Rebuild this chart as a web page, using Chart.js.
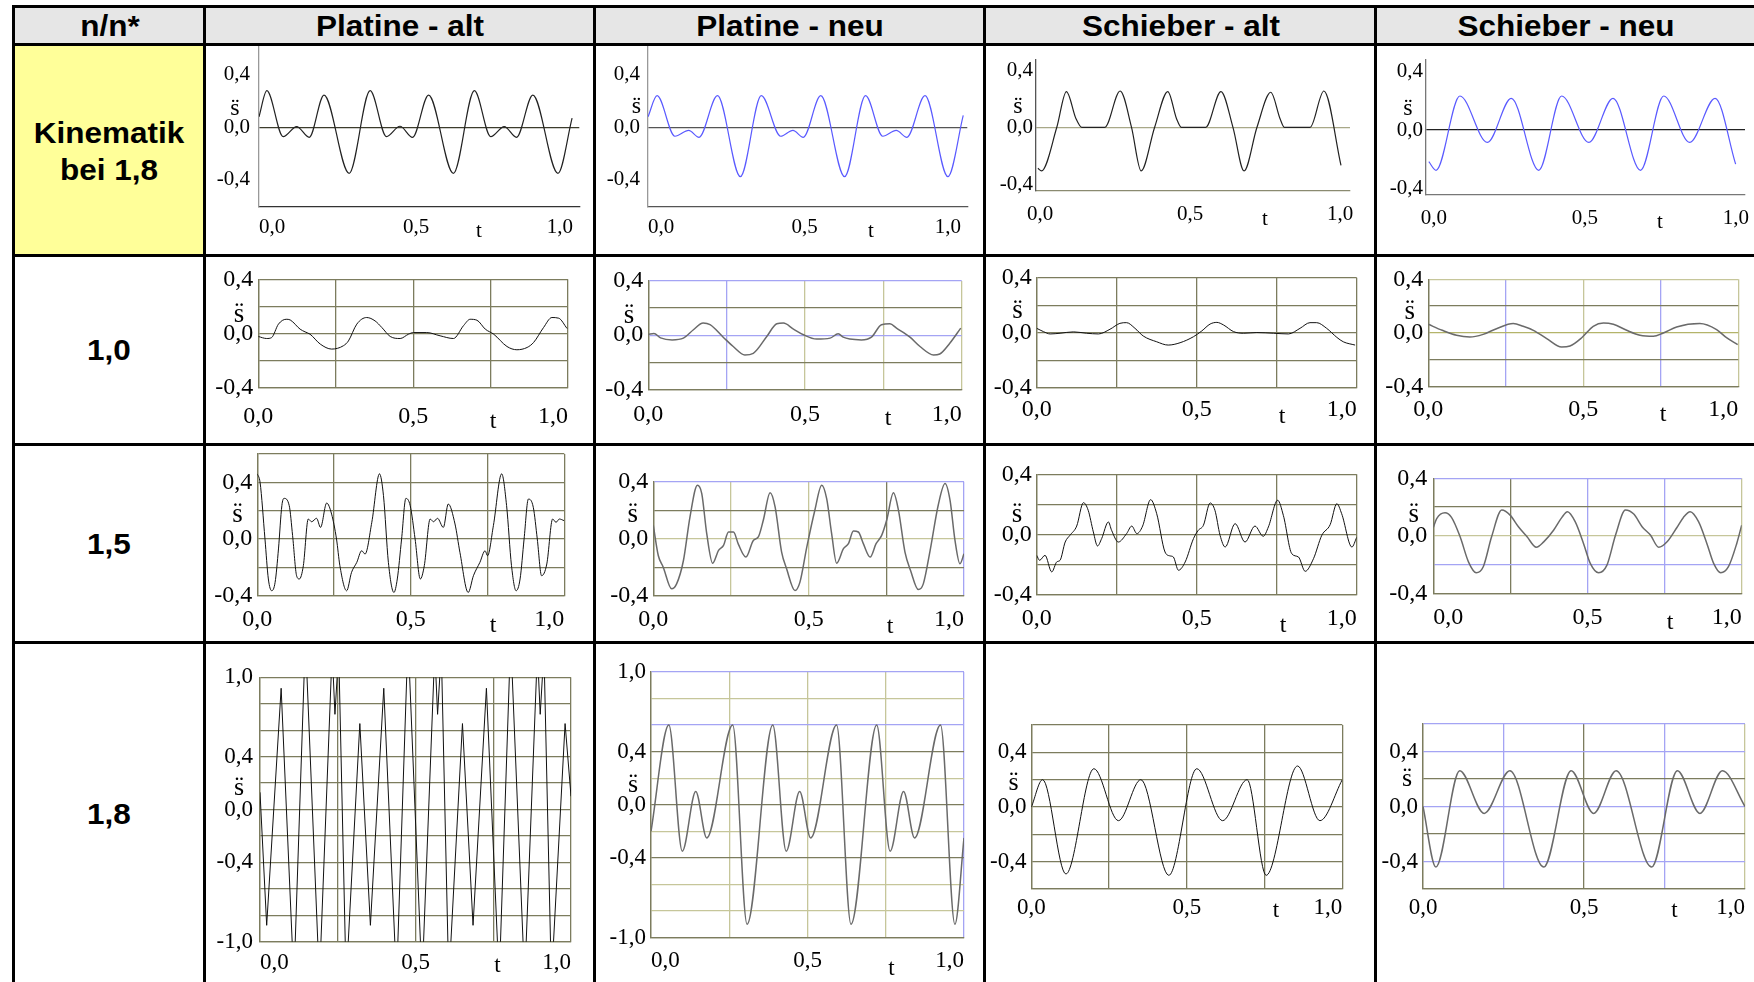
<!DOCTYPE html>
<html>
<head>
<meta charset="utf-8">
<script src="https://cdn.jsdelivr.net/npm/chart.js@4.4.0/dist/chart.umd.min.js"></script>
<style>
  html, body { margin: 0; padding: 0; background: #fff; }
  #page { position: relative; width: 1754px; height: 982px; overflow: hidden; font-family: "Liberation Sans", Arial, sans-serif; }
  .box { position: absolute; }
  .rule { position: absolute; background: #000; }
  .lbl { position: absolute; font-weight: bold; font-size: 30px; color: #000; white-space: nowrap; transform: translate(-50%, -50%) scaleX(1.05); }
  canvas { position: absolute; }
</style>
</head>
<body>
<div id="page"></div>
<script>
// ---- table text ----
const headers = ['n/n*', 'Platine - alt', 'Platine - neu', 'Schieber - alt', 'Schieber - neu'];
const rowLabels = [['Kinematik', 'bei 1,8'], ['1,0'], ['1,5'], ['1,8']];

// ---- tick values ----
const xTickVals = [0, 0.5, 1];
const xGridVals = [0, 0.25, 0.5, 0.75, 1];
const yTickSmall = [-0.4, 0, 0.4];
const yGrid04 = [-0.4, -0.2, 0, 0.2, 0.4];
const yGrid06 = [-0.4, -0.2, 0, 0.2, 0.4, 0.6];
const yGridPm06 = [-0.6, -0.4, -0.2, 0, 0.2, 0.4, 0.6];
const yGrid10 = [-1, -0.8, -0.6, -0.4, -0.2, 0, 0.2, 0.4, 0.6, 0.8, 1];
const yTickBig = [-1, -0.4, 0, 0.4, 1];

// ---- Kinematik bei 1,8 ----
const kinPAltT = [0, 0.025, 0.077, 0.12, 0.16, 0.207, 0.287, 0.354, 0.406, 0.449, 0.489, 0.54, 0.619, 0.686, 0.738, 0.781, 0.82, 0.872, 0.952, 0.997];
const kinPAltS = [0.08, 0.278, -0.071, 0.005, -0.076, 0.245, -0.35, 0.278, -0.071, 0.008, -0.076, 0.245, -0.35, 0.278, -0.071, 0.005, -0.076, 0.245, -0.35, 0.07];
const kinPNeuT = [0, 0.029, 0.086, 0.13, 0.163, 0.222, 0.295, 0.362, 0.424, 0.463, 0.496, 0.552, 0.628, 0.695, 0.75, 0.793, 0.827, 0.885, 0.958, 1.007];
const kinPNeuS = [0.08, 0.24, -0.068, -0.023, -0.076, 0.24, -0.375, 0.24, -0.068, -0.023, -0.076, 0.24, -0.375, 0.24, -0.068, -0.023, -0.076, 0.24, -0.375, 0.09];
const kinSAltT = [-0.007, 0.005, 0.056, 0.088, 0.12, 0.139, 0.18, 0.216, 0.267, 0.305, 0.337, 0.382, 0.426, 0.455, 0.471, 0.51, 0.552, 0.603, 0.643, 0.68, 0.723, 0.769, 0.8, 0.814, 0.86, 0.9, 0.946, 1.003];
const kinSAltS = [-0.287, -0.305, 0, 0.25, 0.06, 0, 0, 0, 0.254, 0, -0.305, 0, 0.25, 0.06, 0, 0, 0, 0.25, 0, -0.305, 0, 0.245, 0.06, 0, 0, 0, 0.254, -0.266];
const kinSNeuT = [-0.017, 0.007, 0.086, 0.177, 0.256, 0.347, 0.423, 0.513, 0.593, 0.684, 0.761, 0.847, 0.931, 0.999];
const kinSNeuS = [-0.217, -0.276, 0.233, -0.085, 0.217, -0.276, 0.233, -0.085, 0.217, -0.276, 0.233, -0.085, 0.217, -0.234];

// ---- n/n* = 1,0 ----
const n10PAltT = [0, 0.027, 0.043, 0.065, 0.09, 0.103, 0.135, 0.151, 0.167, 0.2, 0.237, 0.275, 0.291, 0.318, 0.35, 0.377, 0.399, 0.426, 0.458, 0.485, 0.501, 0.544, 0.587, 0.63, 0.663, 0.684, 0.706, 0.733, 0.76, 0.803, 0.835, 0.868, 0.889, 0.921, 0.948, 0.97, 0.997];
const n10PAltS = [-0.022, -0.037, -0.03, 0.069, 0.105, 0.1, 0.032, 0.012, -0.005, -0.078, -0.115, -0.09, -0.055, 0.069, 0.118, 0.093, 0.044, -0.022, -0.037, -0.005, 0.007, 0.007, -0.017, -0.037, 0.059, 0.105, 0.098, 0.032, -0.005, -0.096, -0.12, -0.103, -0.066, 0.044, 0.118, 0.113, 0.037];
const n10PNeuT = [0, 0.018, 0.039, 0.076, 0.112, 0.144, 0.175, 0.197, 0.239, 0.271, 0.308, 0.335, 0.378, 0.41, 0.431, 0.463, 0.495, 0.537, 0.58, 0.606, 0.622, 0.643, 0.68, 0.712, 0.744, 0.771, 0.792, 0.835, 0.867, 0.91, 0.93, 0.962, 0.997];
const n10PNeuS = [0.005, 0.012, -0.02, -0.035, -0.022, 0.04, 0.089, 0.077, -0.015, -0.084, -0.146, -0.134, -0.01, 0.084, 0.089, 0.045, 0.003, -0.029, -0.022, 0.01, -0.015, -0.029, -0.035, -0.015, 0.077, 0.084, 0.052, -0.015, -0.084, -0.146, -0.139, -0.06, 0.052];
const n10SAltT = [0, 0.021, 0.042, 0.073, 0.115, 0.156, 0.193, 0.229, 0.26, 0.281, 0.307, 0.333, 0.375, 0.411, 0.448, 0.49, 0.516, 0.542, 0.563, 0.584, 0.615, 0.646, 0.688, 0.74, 0.787, 0.823, 0.854, 0.875, 0.906, 0.938, 0.958, 0.995];
const n10SAltS = [0.032, 0.008, -0.009, -0.004, 0.006, -0.004, -0.009, 0.025, 0.068, 0.073, 0.032, -0.024, -0.066, -0.09, -0.073, -0.029, 0.013, 0.063, 0.075, 0.056, 0.008, -0.004, 0.001, -0.004, -0.009, 0.032, 0.073, 0.073, 0.032, -0.034, -0.066, -0.09];
const n10SNeuT = [0, 0.045, 0.091, 0.134, 0.177, 0.22, 0.274, 0.306, 0.339, 0.382, 0.43, 0.457, 0.495, 0.532, 0.565, 0.597, 0.64, 0.683, 0.726, 0.758, 0.801, 0.876, 0.93, 0.962, 0.998];
const n10SNeuS = [0.065, 0.02, -0.017, -0.03, -0.01, 0.032, 0.07, 0.05, 0.02, -0.042, -0.105, -0.097, -0.035, 0.05, 0.075, 0.065, 0.02, -0.017, -0.025, 0, 0.045, 0.07, 0.025, -0.035, -0.087];

// ---- n/n* = 1,5 ----
const n15PAltT = [0, 0.009, 0.025, 0.036, 0.047, 0.058, 0.069, 0.08, 0.087, 0.104, 0.115, 0.128, 0.137, 0.15, 0.166, 0.177, 0.193, 0.206, 0.226, 0.242, 0.258, 0.269, 0.291, 0.307, 0.324, 0.34, 0.351, 0.373, 0.398, 0.411, 0.427, 0.445, 0.456, 0.47, 0.484, 0.498, 0.514, 0.531, 0.544, 0.563, 0.574, 0.587, 0.606, 0.622, 0.644, 0.66, 0.687, 0.704, 0.725, 0.742, 0.75, 0.769, 0.796, 0.812, 0.828, 0.843, 0.856, 0.869, 0.883, 0.899, 0.912, 0.926, 0.943, 0.962, 0.973, 0.984, 0.999];
const n15PAltS = [0.46, 0.4, 0, -0.282, -0.365, -0.306, -0.07, 0.236, 0.287, 0.236, 0.024, -0.259, -0.282, -0.188, 0.141, 0.122, 0.146, 0.082, 0.254, 0.176, 0, -0.188, -0.365, -0.235, -0.165, -0.083, -0.106, 0.118, 0.46, 0.306, -0.165, -0.377, -0.282, 0, 0.287, 0.236, 0, -0.282, -0.188, 0.141, 0.122, 0.146, 0.082, 0.247, 0.106, -0.094, -0.377, -0.259, -0.165, -0.083, -0.118, 0.094, 0.46, 0.236, -0.188, -0.365, -0.282, 0, 0.282, 0.224, 0, -0.259, -0.176, 0.141, 0.118, 0.141, 0.13];
const n15PNeuT = [0, 0.016, 0.032, 0.059, 0.075, 0.097, 0.118, 0.142, 0.156, 0.172, 0.191, 0.21, 0.226, 0.242, 0.258, 0.274, 0.298, 0.322, 0.338, 0.354, 0.376, 0.392, 0.413, 0.429, 0.456, 0.472, 0.494, 0.52, 0.542, 0.558, 0.574, 0.59, 0.612, 0.628, 0.644, 0.66, 0.676, 0.698, 0.717, 0.735, 0.751, 0.773, 0.789, 0.81, 0.828, 0.853, 0.869, 0.891, 0.917, 0.939, 0.955, 0.971, 0.987, 1.0];
const n15PNeuS = [0.093, -0.118, -0.2, -0.352, -0.317, -0.153, 0.152, 0.375, 0.317, 0.035, -0.172, -0.082, -0.047, 0.047, 0.047, -0.04, -0.129, -0.012, 0.012, 0.129, 0.322, 0.223, -0.094, -0.211, -0.364, -0.305, -0.059, 0.2, 0.375, 0.281, 0.035, -0.172, -0.07, -0.035, 0.054, 0.047, -0.035, -0.129, -0.035, 0.023, 0.129, 0.322, 0.2, -0.094, -0.223, -0.357, -0.317, -0.082, 0.235, 0.387, 0.27, -0.012, -0.176, -0.106];
const n15SAltT = [0, 0.009, 0.026, 0.047, 0.063, 0.073, 0.089, 0.104, 0.125, 0.146, 0.161, 0.177, 0.19, 0.203, 0.224, 0.234, 0.255, 0.281, 0.297, 0.313, 0.331, 0.356, 0.375, 0.401, 0.417, 0.427, 0.443, 0.464, 0.49, 0.505, 0.521, 0.542, 0.557, 0.573, 0.589, 0.62, 0.651, 0.682, 0.708, 0.724, 0.753, 0.771, 0.797, 0.818, 0.839, 0.865, 0.891, 0.917, 0.938, 0.953, 0.985, 1.0];
const n15SAltS = [-0.137, -0.17, -0.137, -0.247, -0.18, -0.17, -0.049, -0.004, 0.057, 0.212, 0.161, 0.018, -0.075, -0.026, 0.084, 0.029, -0.049, 0.007, 0.057, 0.007, 0.057, 0.232, 0.139, -0.115, -0.141, -0.148, -0.236, -0.181, -0.026, 0.029, 0.062, 0.21, 0.161, -0.004, -0.082, 0.073, -0.049, 0.057, -0.011, 0.051, 0.228, 0.126, -0.126, -0.148, -0.243, -0.159, -0.004, 0.066, 0.205, 0.139, -0.082, -0.018];
const n15SNeuT = [0, 0.011, 0.038, 0.059, 0.087, 0.114, 0.139, 0.162, 0.189, 0.222, 0.249, 0.276, 0.304, 0.334, 0.358, 0.39, 0.417, 0.435, 0.46, 0.487, 0.509, 0.536, 0.563, 0.591, 0.623, 0.65, 0.677, 0.704, 0.731, 0.758, 0.79, 0.811, 0.833, 0.86, 0.887, 0.909, 0.932, 0.957, 0.984, 1.0];
const n15SNeuS = [0.058, 0.12, 0.16, 0.128, -0.007, -0.181, -0.257, -0.215, -0.007, 0.179, 0.144, 0.063, -0.007, -0.08, -0.042, 0.039, 0.128, 0.167, 0.098, -0.053, -0.192, -0.257, -0.204, 0.005, 0.179, 0.151, 0.063, 0.005, -0.08, -0.042, 0.058, 0.128, 0.167, 0.098, -0.053, -0.192, -0.257, -0.215, -0.053, 0.074];

// ---- n/n* = 1,8 ----
const n18PAltT = [0, 0.0215, 0.068, 0.109, 0.146, 0.191, 0.232, 0.241, 0.253, 0.277, 0.321, 0.355, 0.398, 0.439, 0.476, 0.521, 0.562, 0.571, 0.583, 0.607, 0.651, 0.685, 0.728, 0.769, 0.806, 0.851, 0.892, 0.901, 0.913, 0.937, 0.981, 1.0];
const n18PAltS = [0.13, -0.876, 0.917, -1.3, 1.3, -1.3, 1.2, 0.72, 1.2, -1.3, 0.65, -0.876, 0.917, -1.3, 1.3, -1.3, 1.2, 0.72, 1.2, -1.3, 0.65, -0.876, 0.917, -1.3, 1.3, -1.3, 1.2, 0.72, 1.2, -1.3, 0.65, 0.1];
const n18PNeuT = [0, 0.057, 0.1, 0.143, 0.178, 0.261, 0.307, 0.389, 0.432, 0.475, 0.51, 0.593, 0.639, 0.721, 0.764, 0.807, 0.842, 0.925, 0.971, 1.0];
const n18PNeuS = [-0.2, 0.6, -0.35, 0.1, -0.25, 0.6, -0.9, 0.6, -0.35, 0.1, -0.25, 0.6, -0.9, 0.6, -0.35, 0.1, -0.25, 0.6, -0.9, -0.25];
const n18SAltT = [0, 0.036, 0.111, 0.201, 0.28, 0.352, 0.442, 0.532, 0.615, 0.694, 0.755, 0.856, 0.928, 1.0];
const n18SAltS = [0.0, 0.2, -0.49, 0.28, -0.1, 0.2, -0.5, 0.28, -0.1, 0.2, -0.5, 0.3, -0.1, 0.2];
const n18SNeuT = [0, 0.04, 0.114, 0.19, 0.27, 0.375, 0.46, 0.53, 0.6, 0.71, 0.79, 0.86, 0.93, 1.0];
const n18SNeuS = [0.0, -0.44, 0.26, -0.05, 0.26, -0.44, 0.26, -0.05, 0.26, -0.44, 0.26, -0.05, 0.26, 0.0];

// ---- layout ----
const COLS = [13, 204, 594, 984, 1375, 1754];
const ROWS = [6, 44, 255, 444, 642, 982];
const page = document.getElementById('page');

const el = (cls, css, txt) => {
  const d = document.createElement('div');
  d.className = cls;
  Object.assign(d.style, css);
  if (txt) d.textContent = txt;
  page.appendChild(d);
  return d;
};

el('box', {left: '13px', top: '6px', width: '1741px', height: '38px', background: '#e6e6e6'});
el('box', {left: '13px', top: '44px', width: '191px', height: '211px', background: '#ffff99'});
ROWS.slice(0, 5).forEach(y => el('rule', {left: '12px', top: (y - 1) + 'px', width: '1742px', height: '3px'}));
COLS.slice(0, 5).forEach(x => el('rule', {left: (x - 1) + 'px', top: '5px', width: '3px', height: '977px'}));

headers.forEach((h, i) => el('lbl', {left: ((COLS[i] + COLS[i + 1]) / 2 + 1) + 'px', top: '26px'}, h));
const rowLabelY = [[133, 170], [350], [544], [814]];
rowLabels.forEach((lines, r) => lines.forEach((t, k) => el('lbl', {left: '109px', top: rowLabelY[r][k] + 'px'}, t)));

// ---- charts ----
const serif = '"Liberation Serif", "Times New Roman", serif';
const fmt = v => (Math.round(v * 10) / 10).toFixed(1).replace('.', ',');
const has = (list, v) => list.some(l => Math.abs(l - v) < 1e-6);
const NONE = 'rgba(0,0,0,0)';
const OL = '#7c7c5e', OLL = '#c6c69a', BL = '#a4a4f4';

const marks = {
  id: 'marks',
  beforeDraw(chart, args, o) {
    // first and last x labels sit as in the scans (left / centred / flush right)
    const shown = chart.scales.x.getLabelItems().filter(it => it.label !== '');
    shown[0].options.textAlign = o.first;
    shown[shown.length - 1].options.textAlign = o.last;
  },
  afterDraw(chart, args, o) {
    const c = chart.ctx;
    c.save();
    c.fillStyle = '#000';
    c.textAlign = 'center';
    c.font = o.sSize + 'px ' + serif;
    c.textBaseline = 'alphabetic';
    c.fillText('s\u0308', o.s[0] - o.ox, o.s[1] - o.oy);
    c.font = o.size + 'px ' + serif;
    c.textBaseline = 'middle';
    c.fillText('t', o.t[0] - o.ox, o.t[1] - o.oy);
    c.restore();
  }
};

const cells = [
  {row: 1, col: 1, t: kinPAltT, s: kinPAltS, line: '#222', lw: 1.2, area: [259, 579.3, 47, 206.3], x: [0, 1.02], y: [-0.6, 0.61], gx: xTickVals, gy: yTickSmall, yl: yTickSmall, cx: [NONE, NONE, NONE], cy: [NONE, '#3c3c2c', NONE], bx: '#333', by: '#999', fs: 21, xPad: 9, yPad: 9, first: 'left', last: 'right', sl: [235, 115], tl: [479, 231]},
  {row: 1, col: 2, t: kinPNeuT, s: kinPNeuS, line: '#5a5aff', lw: 1.2, area: [648, 967.3, 47, 206.3], x: [0, 1.02], y: [-0.6, 0.61], gx: xTickVals, gy: yTickSmall, yl: yTickSmall, cx: [NONE, NONE, NONE], cy: [NONE, '#555', NONE], bx: '#555', by: '#999', fs: 21, xPad: 9, yPad: 8, first: 'left', last: 'right', sl: [636.5, 113], tl: [871, 231]},
  {row: 1, col: 3, t: kinSAltT, s: kinSAltS, line: '#222', lw: 1.2, area: [1036.1, 1350, 60.1, 190.2], x: [-0.013, 1.033], y: [-0.44, 0.47], gx: xTickVals, gy: yTickSmall, yl: yTickSmall, cx: [NONE, NONE, NONE], cy: [NONE, '#a8a888', NONE], bx: '#8a8a70', by: '#555', fs: 21, xPad: 12, yPad: 3, first: 'center', last: 'center', sl: [1018, 113], tl: [1265, 219]},
  {row: 1, col: 4, t: kinSNeuT, s: kinSNeuS, line: '#5a5aff', lw: 1.2, area: [1426.1, 1745, 59.9, 195], x: [-0.026, 1.03], y: [-0.445, 0.48], gx: xTickVals, gy: yTickSmall, yl: yTickSmall, cx: [NONE, NONE, NONE], cy: [NONE, '#222', NONE], bx: '#777', by: '#777', fs: 21, xPad: 11, yPad: 3, first: 'center', last: 'center', sl: [1408, 115], tl: [1660, 222]},

  {row: 2, col: 1, t: n10PAltT, s: n10PAltS, line: '#111', lw: 1, area: [258.3, 568, 279.3, 387.7], x: [0, 1], y: [-0.4, 0.4], gx: xGridVals, gy: yGrid04, yl: yTickSmall, cx: [OL, OL, OL, OL, OL], cy: [OL, OL, OL, OL, OL], bx: OL, by: OL, fs: 24, xPad: 15, yPad: 5, first: 'center', last: 'right', sl: [239, 321.7], tl: [493, 422]},
  {row: 2, col: 2, t: n10PNeuT, s: n10PNeuS, line: '#6a6a6a', lw: 1.5, area: [648.3, 961.7, 281, 389.3], x: [0, 1], y: [-0.4, 0.4], gx: xGridVals, gy: yGrid04, yl: yTickSmall, cx: [OL, BL, OLL, OLL, OLL], cy: [OL, OL, BL, OL, BL], bx: OL, by: OL, fs: 24, xPad: 11, yPad: 5, first: 'center', last: 'right', sl: [629, 322.7], tl: [888, 419]},
  {row: 2, col: 3, t: n10SAltT, s: n10SAltS, line: '#111', lw: 1, area: [1036.7, 1356.7, 277.7, 387.7], x: [0, 1], y: [-0.4, 0.4], gx: xGridVals, gy: yGrid04, yl: yTickSmall, cx: [OL, OL, OL, OL, OL], cy: [OL, OL, OL, OL, OL], bx: OL, by: OL, fs: 24, xPad: 8, yPad: 5, first: 'center', last: 'right', sl: [1017.5, 318.3], tl: [1282, 417]},
  {row: 2, col: 4, t: n10SNeuT, s: n10SNeuS, line: '#6a6a6a', lw: 1.5, area: [1428.3, 1738.3, 279.3, 386.7], x: [0, 1], y: [-0.4, 0.4], gx: xGridVals, gy: yGrid04, yl: yTickSmall, cx: [OL, BL, OLL, BL, OLL], cy: [OL, OL, '#b4b46a', OL, OLL], bx: OL, by: OL, fs: 24, xPad: 9, yPad: 5, first: 'center', last: 'right', sl: [1409.7, 319], tl: [1663, 415]},

  {row: 3, col: 1, t: n15PAltT, s: n15PAltS, line: '#111', lw: 1, area: [257.3, 564.3, 454, 595.7], x: [0, 1], y: [-0.4, 0.6], gx: xGridVals, gy: yGrid06, yl: yTickSmall, cx: [OL, OL, OL, OL, OL], cy: [OL, OL, OL, OL, OL, OL], bx: OL, by: OL, fs: 24, xPad: 10, yPad: 5, first: 'center', last: 'right', sl: [237.5, 521.7], tl: [493, 626]},
  {row: 3, col: 2, t: n15PNeuT, s: n15PNeuS, line: '#6a6a6a', lw: 1.5, area: [653.3, 964, 481.7, 595.7], x: [0, 1], y: [-0.4, 0.4], gx: xGridVals, gy: yGrid04, yl: yTickSmall, cx: [OL, OLL, OLL, OL, BL], cy: [OL, OL, OLL, OL, BL], bx: OL, by: OL, fs: 24, xPad: 10, yPad: 5, first: 'center', last: 'right', sl: [632.8, 521.7], tl: [890, 627]},
  {row: 3, col: 3, t: n15SAltT, s: n15SAltS, line: '#111', lw: 1, area: [1036.7, 1356.7, 474.3, 595], x: [0, 1], y: [-0.4, 0.4], gx: xGridVals, gy: yGrid04, yl: yTickSmall, cx: [OL, OL, OL, OL, OL], cy: [OL, OL, OL, OL, OL], bx: OL, by: OL, fs: 24, xPad: 9, yPad: 5, first: 'center', last: 'right', sl: [1017, 521.7], tl: [1283, 626]},
  {row: 3, col: 4, t: n15SNeuT, s: n15SNeuS, line: '#6a6a6a', lw: 1.5, area: [1433.3, 1741.7, 478.3, 593.3], x: [0, 1], y: [-0.4, 0.4], gx: xGridVals, gy: yGrid04, yl: yTickSmall, cx: [OL, OL, BL, BL, OLL], cy: [OL, BL, OLL, OL, BL], bx: OL, by: OL, fs: 24, xPad: 10, yPad: 6, first: 'left', last: 'right', sl: [1413.8, 521.7], tl: [1670, 623]},

  {row: 4, col: 1, t: n18PAltT, s: n18PAltS, line: '#111', lw: 1, smooth: false, area: [260, 571, 677.3, 941.7], x: [0, 1], y: [-1, 1], gx: xGridVals, gy: yGrid10, yl: yTickBig, cx: [OL, OL, OL, OL, OL], cy: Array(11).fill(OL), bx: OL, by: OL, fs: 23, xPad: 7, yPad: 7, first: 'left', last: 'right', sl: [239, 795], tl: [497.5, 966]},
  {row: 4, col: 2, t: n18PNeuT, s: n18PNeuS, line: '#6a6a6a', lw: 1.5, area: [651, 964, 672, 937.5], x: [0, 1], y: [-1, 1], gx: xGridVals, gy: yGrid10, yl: yTickBig, cx: [OL, OLL, OLL, OLL, BL], cy: [OL, OLL, OLL, OL, OLL, OL, OLL, OL, BL, OLL, BL], bx: OL, by: OL, fs: 23, xPad: 10, yPad: 5, first: 'left', last: 'right', sl: [633, 792], tl: [891.5, 969]},
  {row: 4, col: 3, t: n18SAltT, s: n18SAltS, line: '#111', lw: 1, area: [1031.4, 1342.3, 725, 889], x: [0, 1], y: [-0.6, 0.6], gx: xGridVals, gy: yGridPm06, yl: yTickSmall, cx: [OL, OL, OL, OL, OL], cy: Array(7).fill(OL), bx: OL, by: OL, fs: 23, xPad: 5, yPad: 5, first: 'center', last: 'right', sl: [1013.5, 790], tl: [1276, 910.5]},
  {row: 4, col: 4, t: n18SNeuT, s: n18SNeuS, line: '#6a6a6a', lw: 1.5, area: [1423, 1745, 724, 889], x: [0, 1], y: [-0.6, 0.6], gx: xGridVals, gy: yGridPm06, yl: yTickSmall, cx: [OL, BL, OL, BL, OLL], cy: [OL, BL, OL, BL, OL, BL, BL], bx: OL, by: OL, fs: 23, xPad: 5, yPad: 5, first: 'center', last: 'right', sl: [1407, 786], tl: [1674.5, 910.5]}
];

cells.forEach(p => {
  const cl = COLS[p.col] + 2, ct = ROWS[p.row] + 2;
  const cw = COLS[p.col + 1] - COLS[p.col] - 3, ch = ROWS[p.row + 1] - ROWS[p.row] - 3;
  const cv = document.createElement('canvas');
  cv.width = cw; cv.height = ch;
  cv.style.left = cl + 'px'; cv.style.top = ct + 'px';
  cv.style.width = cw + 'px'; cv.style.height = ch + 'px';
  page.appendChild(cv);
  const [l, r, t, b] = p.area;
  const yW = l - cl, xH = ct + ch - b;   // label bands left of / below the plot
  const tickFont = {family: serif, size: p.fs};
  new Chart(cv, {
    type: 'line',
    data: {datasets: [{
      data: p.t.map((x, i) => ({x, y: p.s[i]})),
      borderColor: p.line, borderWidth: p.lw, pointRadius: 0, fill: false,
      tension: 0, cubicInterpolationMode: p.smooth === false ? 'default' : 'monotone'
    }]},
    options: {
      responsive: false, animation: false, devicePixelRatio: 1,
      layout: {autoPadding: false, padding: {left: 0, right: cl + cw - r, top: t - ct, bottom: 0}},
      plugins: {legend: {display: false}, tooltip: {enabled: false},
        marks: {s: p.sl, t: p.tl, ox: cl, oy: ct, size: p.fs, sSize: p.fs + 3, first: p.first, last: p.last}},
      scales: {
        x: {
          type: 'linear', min: p.x[0], max: p.x[1],
          afterBuildTicks: sc => { sc.ticks = p.gx.map(v => ({value: v})); },
          afterFit: sc => { sc.height = xH; sc.paddingLeft = 0; sc.paddingRight = 0; },
          ticks: {autoSkip: false, maxRotation: 0, minRotation: 0, padding: p.xPad, color: '#000', font: tickFont,
            callback: v => has(xTickVals, v) ? fmt(v) : ''},
          grid: {drawTicks: false, color: c => p.cx[c.index] || NONE, lineWidth: 1.3},
          border: {display: true, color: p.bx, width: 1.3}
        },
        y: {
          type: 'linear', min: p.y[0], max: p.y[1],
          afterBuildTicks: sc => { sc.ticks = p.gy.map(v => ({value: v})); },
          afterFit: sc => { sc.width = yW; sc.paddingTop = 0; sc.paddingBottom = 0; },
          ticks: {autoSkip: false, padding: p.yPad, color: '#000', font: tickFont,
            callback: v => has(p.yl, v) ? fmt(v) : ''},
          grid: {drawTicks: false, color: c => p.cy[c.index] || NONE, lineWidth: 1.3},
          border: {display: true, color: p.by, width: 1.3}
        }
      }
    },
    plugins: [marks]
  });
});
</script>
</body>
</html>
